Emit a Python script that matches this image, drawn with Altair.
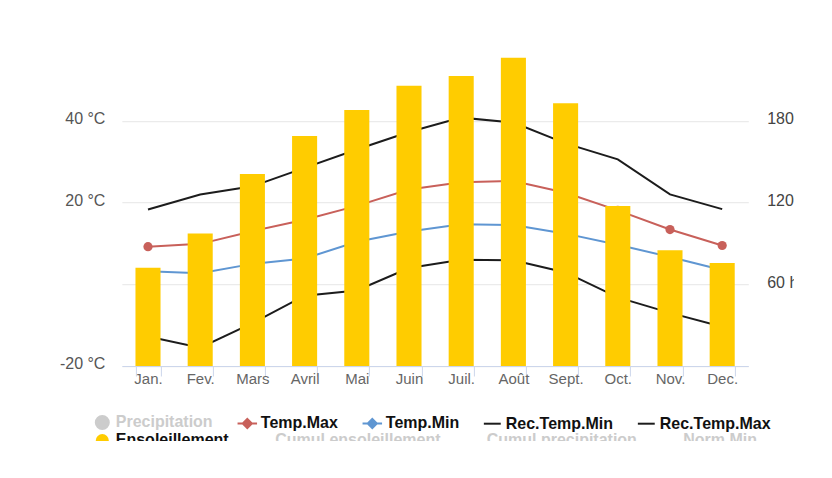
import altair as alt
import pandas as pd

# ---- data ----
months = ["Jan.", "Fev.", "Mars", "Avril", "Mai", "Juin", "Juil.", "Août", "Sept.", "Oct.", "Nov.", "Dec."]
ensoleillement = [72.2, 97.3, 141.0, 168.9, 188.0, 205.9, 213.0, 226.4, 192.9, 117.5, 85.0, 75.6]
temp_max = [9.2, 9.9, 13.0, 15.8, 19.2, 23.2, 25.0, 25.3, 22.4, 18.1, 13.4, 9.5]
temp_min = [3.2, 2.7, 5.0, 6.3, 10.4, 12.9, 14.7, 14.5, 12.4, 9.7, 6.7, 3.5]
rec_temp_min = [-12.8, -15.5, -9.5, -2.8, -1.5, 4.0, 6.0, 5.9, 2.9, -3.2, -7.0, -10.4]
rec_temp_max = [18.3, 22.0, 24.0, 28.5, 33.0, 37.3, 40.8, 39.6, 34.5, 30.6, 22.0, 18.4]

legend_row1 = ["Precipitation", "Temp.Max", "Temp.Min", "Rec.Temp.Min", "Rec.Temp.Max"]
legend_row2 = ["Ensoleillement", "Cumul ensoleillement", "Cumul precipitation", "Norm.Min"]

RED = "#c8605a"
BLUE = "#5f96d2"
BLACK = "#1c1c1c"
GOLD = "#ffcc00"
GREY = "#cccccc"
FONT = "Liberation Sans"

line_series = {
    "Temp.Max": temp_max,
    "Temp.Min": temp_min,
    "Rec.Temp.Min": rec_temp_min,
    "Rec.Temp.Max": rec_temp_max,
}
rows = []
for name, vals in line_series.items():
    for m, v in zip(months, vals):
        rows.append({"month": m, "series": name, "value": v})
temps = pd.DataFrame(rows)
bars_df = pd.DataFrame({"month": months, "value": ensoleillement, "series": "Ensoleillement"})

x_enc = alt.X(
    "month:N",
    sort=months,
    scale=alt.Scale(paddingInner=0.52, paddingOuter=0.26),
    axis=alt.Axis(
        title=None, labelAngle=0, tickBand="extent", domainColor="#ccd6eb",
        tickColor="#ccd6eb", tickSize=10, labelFont=FONT, labelFontSize=15,
        labelColor="#666666", labelPadding=-4, grid=False,
    ),
)

sym_type_a = (
    "datum.value == 'Precipitation' ? 'circle' : "
    "(datum.value == 'Temp.Max' || datum.value == 'Temp.Min') ? "
    "'M-1.5,0H1.5M0,-0.7L0.7,0L0,0.7L-0.7,0Z' : 'M-1.3,0H1.3'"
)
sym_fill_a = (
    f"datum.value == 'Precipitation' ? '{GREY}' : datum.value == 'Temp.Max' ? '{RED}' : "
    f"datum.value == 'Temp.Min' ? '{BLUE}' : 'transparent'"
)
label_col_a = f"datum.value == 'Precipitation' ? '{GREY}' : '#111111'"

legend_common = dict(
    title=None, orient="none", direction="horizontal", legendX=-27.6,
    labelFont=FONT, labelFontSize=16, labelFontWeight="bold", labelLimit=400,
    symbolSize=169, symbolStrokeWidth=2, labelOffset=5.5, padding=0,
)

lines = alt.Chart(temps).mark_line(strokeWidth=2).encode(
    x=x_enc,
    y=alt.Y(
        "value:Q",
        scale=alt.Scale(domain=[-20, 60], nice=False, zero=False),
        axis=alt.Axis(
            title=None, orient="left", values=[-20, 0, 20, 40],
            labelExpr="datum.value == 0 ? '' : datum.value + ' °C'",
            domain=False, ticks=False, tickSize=0, labelPadding=17,
            labelFont=FONT, labelFontSize=16, labelColor="#555555",
            labelOffset=-2, gridColor="#e6e6e6", gridWidth=1,
        ),
    ),
    stroke=alt.Stroke(
        "series:N",
        scale=alt.Scale(domain=legend_row1, range=[GREY, RED, BLUE, BLACK, BLACK]),
        legend=alt.Legend(
            legendY=375,
            columnPadding=20,
            labelColor={"expr": label_col_a},
            symbolType={"expr": sym_type_a},
            symbolFillColor={"expr": sym_fill_a},
            **legend_common,
        ),
    ),
)

pts_max = alt.Chart(temps).transform_filter("datum.series == 'Temp.Max'").mark_point(
    filled=True, size=85, color=RED, opacity=1
).encode(x=alt.X("month:N", sort=months), y="value:Q")

temp_layer = alt.layer(lines, pts_max)

sym_type_b = "datum.value == 'Ensoleillement' ? 'circle' : 'M-1.3,0H1.3'"
label_col_b = f"datum.value == 'Ensoleillement' ? '#111111' : '{GREY}'"

bars = alt.Chart(bars_df).mark_bar().encode(
    x=x_enc,
    y=alt.Y(
        "value:Q",
        scale=alt.Scale(domain=[0, 240], nice=False),
        axis=alt.Axis(
            title=None, orient="right", values=[60, 120, 180],
            labelExpr="datum.value == 60 ? '60 h' : datum.label",
            domain=False, ticks=False, tickSize=0, labelPadding=18.4, grid=False,
            labelFont=FONT, labelFontSize=16, labelColor="#444444", labelOffset=-2,
        ),
    ),
    fill=alt.Fill(
        "series:N",
        scale=alt.Scale(domain=legend_row2, range=[GOLD, GREY, GREY, GREY]),
        legend=alt.Legend(
            legendY=393.3,
            columnPadding=23.5,
            labelColor={"expr": label_col_b},
            symbolType={"expr": sym_type_b},
            **legend_common,
        ),
    ),
)

chart = alt.layer(temp_layer, bars).resolve_scale(
    y="independent", stroke="independent", fill="independent"
).properties(
    width=626.4,
    height=326.8,
    autosize=alt.AutoSizeParams(type="none"),
    padding={"left": 113.9, "top": 31.2, "right": 45.5, "bottom": 75},
    background="white",
).configure_view(stroke=None)

chart.save("out.html", embed_options={"renderer": "svg", "actions": False})
